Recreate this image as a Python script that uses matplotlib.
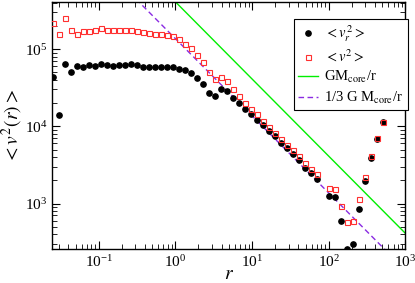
import numpy as np
import matplotlib
matplotlib.use("Agg")
import matplotlib.pyplot as plt

plt.rcParams['font.family'] = ['Liberation Serif', 'DejaVu Serif']
plt.rcParams['mathtext.fontset'] = 'stix'

r = [0.0254, 0.0303, 0.0363, 0.0435, 0.0521, 0.0624, 0.0747, 0.0894, 0.107, 0.128,
     0.153, 0.184, 0.220, 0.263, 0.315, 0.378, 0.452, 0.541, 0.648, 0.776,
     0.929, 1.11, 1.33, 1.59, 1.91, 2.29, 2.74, 3.27, 3.93, 4.70,
     5.62, 6.73, 8.05, 9.66, 11.6, 13.8, 16.6, 19.8, 23.8, 28.4,
     34.0, 40.7, 48.8, 58.4, 70.0, 83.8, 100, 120, 144, 172,
     206, 247, 295, 354, 424, 507, 607]

vr2 = [44100, 14000, 64400, 51200, 61200, 59400, 62500, 60700, 64400, 63100,
       61200, 63100, 62000, 63800, 62000, 59400, 58300, 58300, 58300, 58300,
       58300, 56000, 53300, 48800, 42800, 35400, 26800, 25000, 30500, 29000,
       23100, 19800, 17000, 14300, 12100, 10400, 8770, 7480, 6120, 5180,
       4320, 3650, 2870, 2480, 2050, np.nan, 1260, 1220, 594, 261,
       296, 843, 1930, 3910, 6840, 11500, 18000]

v2 = [218000, 155000, 250000, 178000, 155000, 169000, 169000, 175000, 189000, 178000,
      175000, 177000, 177000, 177000, 173000, 165000, 164000, 158000, 155000, 152000,
      146000, 136000, 118000, 102000, 85100, 68400, 50300, 41500, 44100, 39100,
      30300, 24500, 19900, 16600, 14300, 11800, 9890, 8260, 6780, 5770,
      4920, 4110, 3300, 2810, 2400, np.nan, 1570, 1520, 931, 577,
      594, 1140, 2200, 4150, 7110, 11500, 18300]

GM_core = 4.1e5
r_line = [0.025, 1000]

fig = plt.figure(figsize=(4.15, 2.83), dpi=100)
ax = fig.add_axes([0.1265, 0.119, 0.977 - 0.1265, 0.994 - 0.119])

ax.plot(r, vr2, 'o', color='black', markersize=3.8, linestyle='none',
        label=r'$<v_r^{\,2}>$', zorder=3)
ax.plot(r, v2, 's', markerfacecolor='none', markeredgecolor='#ff3030',
        markeredgewidth=0.8, markersize=3.6, linestyle='none',
        label=r'$<v^2>$', zorder=3)
rl = np.array(r_line)
ax.plot(rl, GM_core / rl, '-', color='#00ee00', linewidth=1.0,
        label=r'GM$_{\rm core}$/r', zorder=2)
ax.plot(rl, GM_core / 3 / rl, '--', color='#8a2be2', linewidth=1.0,
        dashes=(4, 2.5), label=r'1/3 G M$_{\rm core}$/r', zorder=2)

ax.set_xscale('log')
ax.set_yscale('log')
ax.set_xlim(0.025, 1000)
ax.set_ylim(255, 4.11e5)

ax.tick_params(which='both', direction='in', top=True, right=True, labelsize=11)
ax.tick_params(which='major', length=6, width=0.8)
ax.tick_params(which='minor', length=3.5, width=0.6)
for s in ax.spines.values():
    s.set_linewidth(1.0)

ax.set_xlabel(r'$r$', fontsize=14, labelpad=-3)
ax.set_ylabel(r'$< v^2(r) >$', fontsize=14, labelpad=0)

leg = ax.legend(loc='upper right', bbox_to_anchor=(1.006, 0.93), fontsize=10.5,
                frameon=True, fancybox=False, edgecolor='black', framealpha=1,
                handlelength=1.4, handletextpad=0.4, borderpad=0.3,
                borderaxespad=0.0, labelspacing=0.3, numpoints=1)
leg.get_frame().set_linewidth(0.8)
leg.set_zorder(5)

fig.savefig('out.png', dpi=100)
